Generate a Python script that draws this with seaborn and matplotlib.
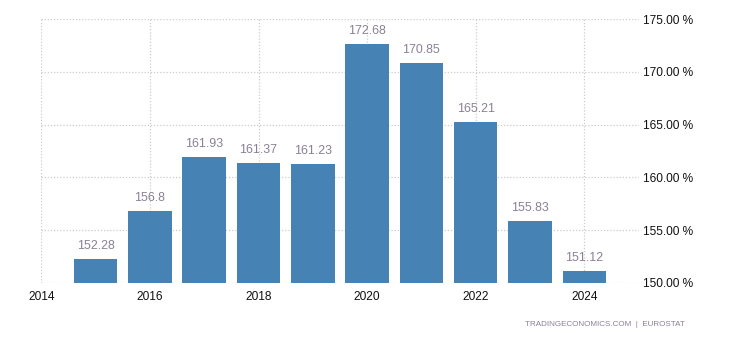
import matplotlib
matplotlib.use("Agg")
import matplotlib.pyplot as plt
import seaborn as sns
import pandas as pd

years = [2015, 2016, 2017, 2018, 2019, 2020, 2021, 2022, 2023, 2024]
values = [152.28, 156.8, 161.93, 161.37, 161.23, 172.68, 170.85, 165.21, 155.83, 151.12]
labels = ["152.28", "156.8", "161.93", "161.37", "161.23", "172.68", "170.85", "165.21", "155.83", "151.12"]
xticks = [2014, 2016, 2018, 2020, 2022, 2024]
yticks = [150, 155, 160, 165, 170, 175]
ytick_labels = ["150.00 %", "155.00 %", "160.00 %", "165.00 %", "170.00 %", "175.00 %"]

sns.set_style("white")
plt.rcParams["font.family"] = ["Liberation Sans", "DejaVu Sans"]

df = pd.DataFrame({"year": years, "value": values})

fig = plt.figure(figsize=(7.3, 3.4), dpi=100)
ax = fig.add_axes([0.0566, 0.1685, 0.8182, 0.7747])

sns.barplot(data=df, x="year", y="value", native_scale=True, color="#4682B4",
            saturation=1, width=0.8, linewidth=0, ax=ax, zorder=2)

ax.set_xlim(2014, 2025)
ax.set_ylim(150, 175)
ax.set_xticks(xticks)
ax.set_xticklabels([str(t) for t in xticks])
ax.set_yticks(yticks)
ax.set_yticklabels(ytick_labels)
ax.yaxis.tick_right()
ax.tick_params(axis="both", length=0, labelsize=8.6, colors="#111111")
ax.tick_params(axis="y", pad=3)
ax.tick_params(axis="x", pad=6)
ax.set_xlabel("")
ax.set_ylabel("")
for s in ax.spines.values():
    s.set_visible(False)
ax.grid(True, axis="both", color="#cccccc", linestyle=(0, (1, 1.5)), linewidth=0.9, zorder=0)
ax.set_axisbelow(True)

for x, v, lab in zip(years, values, labels):
    ax.annotate(lab, (x, v), xytext=(0, 13), textcoords="offset pixels",
                ha="center", va="center", fontsize=8.9, color="#8a8096")

fig.text(685 / 730, 1 - 325 / 340, "TRADINGECONOMICS.COM  |  EUROSTAT", ha="right", va="center",
         fontsize=5.8, color="#8a8096")

fig.savefig("out.png", dpi=100)
